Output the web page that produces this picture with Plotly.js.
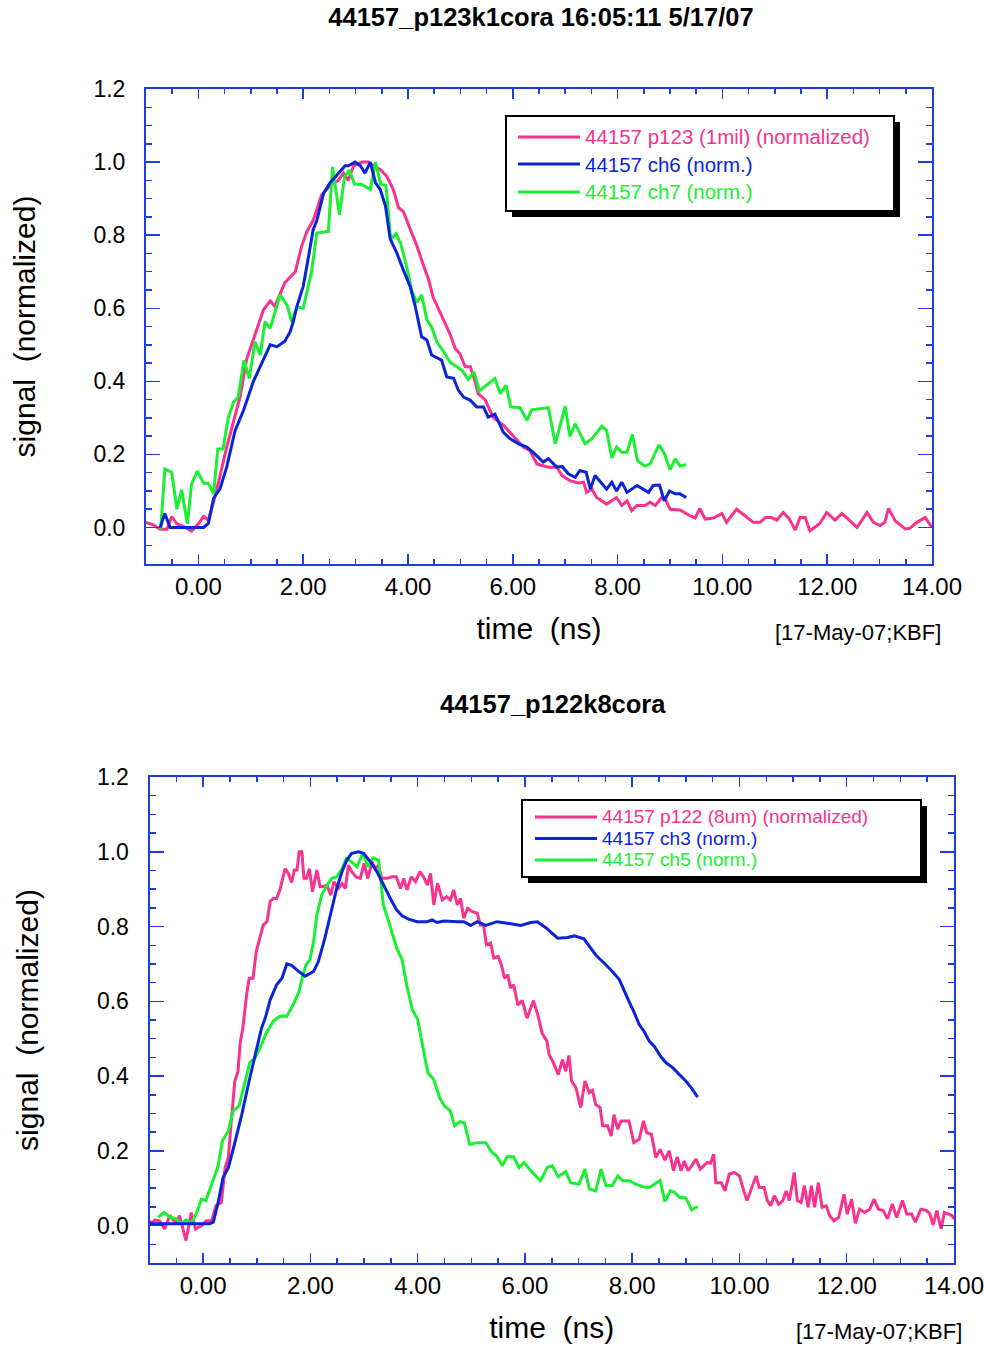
<!DOCTYPE html>
<html>
<head>
<meta charset="utf-8">
<script src="https://cdn.plot.ly/plotly-3.0.1.min.js"></script>
<style>html,body{margin:0;padding:0;background:#fff;}#chart{width:984px;height:1346px;}</style>
</head>
<body>
<div id="chart"></div>
<script>
// ---------- DATA ----------
// top panel: shot 44157_p123k1cora
const t_p123 = [-1.0,-0.86,-0.73,-0.60,-0.51,-0.41,-0.25,-0.13,0.0,0.10,0.19,0.29,0.41,0.54,0.67,0.80,0.92,1.08,1.24,1.37,1.46,1.65,1.85,1.97,2.07,2.19,2.35,2.55,2.67,2.77,2.86,2.96,3.12,3.24,3.34,3.47,3.60,3.72,3.82,3.91,4.04,4.17,4.29,4.39,4.48,4.58,4.68,4.80,4.90,4.99,5.09,5.19,5.28,5.34,5.47,5.63,5.82,6.01,6.20,6.33,6.46,6.68,6.84,6.94,7.09,7.25,7.35,7.41,7.51,7.60,7.79,7.98,8.08,8.18,8.27,8.37,8.52,8.62,8.72,8.84,8.91,9.00,9.19,9.38,9.48,9.57,9.67,9.83,9.99,10.08,10.27,10.43,10.59,10.72,10.82,10.94,11.04,11.16,11.26,11.39,11.48,11.58,11.67,11.86,11.99,12.15,12.28,12.40,12.57,12.76,12.88,13.01,13.10,13.17,13.30,13.49,13.58,13.71,13.87,14.0];
const sig_p123 = [0.014,0.007,-0.005,-0.005,0.03,0.01,0.0,-0.01,0.01,0.03,0.02,0.07,0.14,0.22,0.29,0.36,0.46,0.53,0.595,0.62,0.605,0.67,0.70,0.77,0.81,0.84,0.91,0.94,0.95,0.97,0.95,0.99,1.0,1.0,0.99,0.98,0.96,0.925,0.875,0.865,0.82,0.77,0.72,0.68,0.63,0.60,0.57,0.53,0.49,0.476,0.44,0.44,0.40,0.366,0.35,0.30,0.28,0.25,0.22,0.21,0.174,0.165,0.165,0.142,0.128,0.122,0.124,0.096,0.105,0.082,0.064,0.082,0.06,0.073,0.046,0.06,0.06,0.069,0.06,0.082,0.078,0.05,0.048,0.032,0.026,0.052,0.023,0.026,0.038,0.014,0.05,0.032,0.014,0.014,0.027,0.027,0.02,0.041,0.027,-0.007,0.027,0.027,-0.009,0.011,0.041,0.02,0.038,0.023,0.0,0.041,0.014,0.005,0.014,0.052,0.018,-0.004,-0.002,0.014,0.027,0.0];

const t_ch6 = [-0.73,-0.64,-0.54,0.10,0.19,0.29,0.41,0.54,0.70,0.86,1.05,1.24,1.37,1.50,1.65,1.75,1.81,1.88,2.00,2.10,2.19,2.26,2.39,2.51,2.67,2.80,2.86,2.99,3.09,3.18,3.28,3.38,3.47,3.57,3.66,3.79,3.91,4.04,4.14,4.26,4.36,4.45,4.64,4.74,4.87,4.96,5.06,5.19,5.31,5.44,5.53,5.66,5.82,5.95,6.11,6.27,6.43,6.58,6.68,6.84,6.94,7.06,7.19,7.28,7.40,7.48,7.57,7.79,7.89,7.98,8.08,8.18,8.37,8.59,8.68,8.80,8.89,8.99,9.10,9.19,9.31];
const sig_ch6 = [0.0,0.038,0.0,0.0,0.011,0.08,0.105,0.165,0.265,0.32,0.40,0.46,0.50,0.495,0.51,0.535,0.563,0.605,0.66,0.74,0.815,0.84,0.915,0.943,0.97,0.99,0.99,1.0,0.99,0.97,1.0,0.943,0.925,0.88,0.79,0.75,0.705,0.66,0.604,0.522,0.513,0.472,0.458,0.412,0.408,0.376,0.357,0.348,0.33,0.33,0.302,0.31,0.26,0.243,0.229,0.22,0.20,0.179,0.188,0.165,0.167,0.147,0.137,0.156,0.151,0.105,0.142,0.105,0.124,0.10,0.124,0.096,0.115,0.096,0.115,0.116,0.073,0.10,0.092,0.092,0.082];

const t_ch7 = [-0.72,-0.64,-0.51,-0.41,-0.32,-0.21,-0.13,-0.02,0.10,0.19,0.29,0.37,0.47,0.57,0.67,0.76,0.87,0.97,1.08,1.18,1.27,1.37,1.56,1.69,1.78,1.88,2.00,2.16,2.26,2.48,2.56,2.69,2.79,2.88,2.98,3.12,3.28,3.38,3.48,3.58,3.67,3.77,3.86,3.98,4.07,4.17,4.26,4.36,4.45,4.55,4.68,4.80,4.93,5.03,5.15,5.26,5.36,5.52,5.66,5.76,5.87,5.96,6.14,6.27,6.36,6.68,6.81,7.00,7.09,7.19,7.38,7.51,7.70,7.79,7.89,7.98,8.08,8.18,8.28,8.38,8.52,8.62,8.79,8.89,9.00,9.10,9.19,9.31];
const sig_ch7 = [-0.005,0.16,0.151,0.05,0.103,0.01,0.119,0.154,0.121,0.121,0.092,0.215,0.215,0.30,0.343,0.357,0.458,0.408,0.508,0.472,0.563,0.545,0.637,0.609,0.563,0.604,0.60,0.70,0.806,0.81,0.987,0.856,0.96,0.978,0.94,0.939,0.925,1.0,0.939,0.936,0.788,0.804,0.778,0.71,0.65,0.615,0.637,0.568,0.549,0.508,0.481,0.453,0.44,0.43,0.405,0.426,0.374,0.392,0.408,0.366,0.389,0.33,0.328,0.293,0.322,0.328,0.229,0.332,0.249,0.284,0.229,0.243,0.277,0.266,0.19,0.22,0.206,0.206,0.255,0.183,0.168,0.174,0.226,0.203,0.158,0.188,0.168,0.172];

// bottom panel: shot 44157_p122k8cora
const t_p122 = [-1.0,-0.96,-0.90,-0.81,-0.72,-0.62,-0.50,-0.44,-0.32,-0.22,-0.14,-0.03,0.06,0.16,0.24,0.34,0.41,0.47,0.53,0.59,0.65,0.69,0.74,0.81,0.86,0.93,0.99,1.05,1.12,1.19,1.25,1.31,1.37,1.43,1.53,1.59,1.65,1.70,1.75,1.79,1.84,1.88,1.93,1.98,2.04,2.12,2.18,2.24,2.31,2.38,2.44,2.52,2.59,2.65,2.71,2.77,2.85,2.93,3.00,3.07,3.15,3.21,3.27,3.33,3.43,3.52,3.60,3.68,3.74,3.80,3.88,3.96,4.04,4.11,4.18,4.24,4.30,4.37,4.46,4.54,4.61,4.67,4.74,4.80,4.86,4.93,5.02,5.11,5.17,5.23,5.28,5.36,5.42,5.50,5.56,5.62,5.68,5.73,5.79,5.87,5.95,6.04,6.16,6.24,6.32,6.41,6.45,6.53,6.62,6.70,6.76,6.82,6.87,6.95,7.04,7.12,7.20,7.26,7.32,7.40,7.45,7.54,7.61,7.66,7.73,7.79,7.88,7.94,8.03,8.13,8.21,8.27,8.36,8.44,8.52,8.61,8.69,8.77,8.84,8.91,8.97,9.04,9.11,9.19,9.27,9.33,9.40,9.46,9.52,9.56,9.66,9.73,9.81,9.91,10.00,10.08,10.14,10.23,10.31,10.37,10.46,10.52,10.58,10.65,10.73,10.81,10.87,10.93,11.02,11.08,11.15,11.21,11.28,11.34,11.40,11.47,11.54,11.62,11.68,11.76,11.85,11.95,12.01,12.09,12.16,12.24,12.33,12.43,12.51,12.59,12.68,12.76,12.85,12.93,13.04,13.12,13.21,13.28,13.38,13.49,13.55,13.61,13.68,13.76,13.82,13.90,13.96,14.0];
const sig_p122 = [0.013,0.005,0.015,0.013,-0.009,0.027,0.005,0.027,-0.04,0.035,-0.009,0.0,0.013,0.013,0.053,0.062,0.155,0.182,0.288,0.386,0.413,0.488,0.528,0.618,0.662,0.662,0.733,0.764,0.804,0.813,0.867,0.875,0.875,0.898,0.955,0.942,0.918,0.951,0.951,1.0,1.0,0.929,0.929,0.955,0.893,0.951,0.907,0.907,0.911,0.884,0.92,0.902,0.915,0.902,0.964,0.947,0.933,0.929,0.969,0.929,0.973,0.955,0.964,0.929,0.929,0.933,0.933,0.902,0.929,0.898,0.933,0.92,0.947,0.933,0.911,0.942,0.858,0.916,0.871,0.88,0.871,0.898,0.858,0.875,0.822,0.849,0.84,0.836,0.804,0.804,0.751,0.756,0.716,0.72,0.698,0.662,0.671,0.636,0.644,0.59,0.602,0.555,0.602,0.564,0.515,0.493,0.458,0.436,0.404,0.444,0.413,0.455,0.387,0.369,0.316,0.387,0.356,0.362,0.324,0.316,0.267,0.267,0.24,0.297,0.258,0.28,0.28,0.28,0.222,0.231,0.28,0.249,0.244,0.182,0.204,0.175,0.2,0.147,0.184,0.147,0.173,0.147,0.16,0.178,0.151,0.16,0.169,0.167,0.191,0.115,0.115,0.093,0.138,0.142,0.133,0.093,0.067,0.102,0.133,0.102,0.102,0.067,0.053,0.08,0.057,0.067,0.093,0.067,0.142,0.067,0.062,0.107,0.049,0.107,0.049,0.115,0.049,0.053,0.027,0.013,0.022,0.084,0.031,0.071,0.006,0.044,0.035,0.044,0.071,0.044,0.04,0.018,0.058,0.022,0.067,0.031,0.031,0.009,0.044,0.04,0.031,0.002,0.04,-0.009,0.035,0.031,0.027,0.018];

const t_ch3 = [-1.0,0.12,0.19,0.28,0.37,0.47,0.59,0.72,0.87,0.97,1.09,1.16,1.25,1.37,1.47,1.56,1.65,1.78,1.90,2.06,2.15,2.27,2.40,2.49,2.59,2.68,2.77,2.90,2.99,3.12,3.24,3.36,3.49,3.61,3.71,3.83,3.99,4.18,4.27,4.36,4.49,4.74,4.86,4.99,5.11,5.27,5.48,5.67,5.92,6.11,6.23,6.39,6.48,6.61,6.79,6.92,7.10,7.20,7.32,7.48,7.63,7.76,7.85,7.94,8.04,8.13,8.22,8.32,8.41,8.54,8.63,8.76,8.88,9.00,9.10,9.22];
const sig_ch3 = [0.005,0.005,0.009,0.062,0.128,0.155,0.221,0.297,0.395,0.458,0.529,0.556,0.604,0.644,0.662,0.70,0.696,0.68,0.667,0.68,0.707,0.769,0.849,0.902,0.947,0.978,0.996,1.0,0.996,0.973,0.947,0.911,0.875,0.844,0.829,0.82,0.813,0.813,0.818,0.811,0.815,0.813,0.813,0.803,0.813,0.803,0.813,0.809,0.803,0.811,0.813,0.797,0.785,0.769,0.771,0.775,0.767,0.747,0.724,0.702,0.68,0.658,0.631,0.60,0.569,0.538,0.52,0.493,0.48,0.451,0.436,0.422,0.404,0.387,0.369,0.344];

const t_ch5 = [-0.84,-0.73,-0.62,-0.50,-0.40,-0.32,-0.22,-0.12,-0.03,0.05,0.16,0.28,0.36,0.47,0.56,0.67,0.77,0.87,0.97,1.06,1.18,1.31,1.43,1.56,1.68,1.79,1.86,1.92,1.99,2.06,2.12,2.21,2.31,2.40,2.49,2.59,2.67,2.77,2.87,2.98,3.07,3.17,3.27,3.36,3.46,3.54,3.61,3.71,3.80,3.90,4.00,4.10,4.19,4.30,4.41,4.50,4.61,4.69,4.79,4.87,4.97,5.11,5.27,5.39,5.47,5.58,5.67,5.79,5.89,5.98,6.11,6.29,6.42,6.51,6.62,6.76,6.85,7.01,7.12,7.20,7.32,7.42,7.51,7.63,7.73,7.82,7.94,8.07,8.19,8.32,8.41,8.52,8.61,8.71,8.79,8.88,9.00,9.11,9.22];
const sig_ch5 = [0.022,0.035,0.023,0.018,0.005,0.015,0.005,0.035,0.071,0.067,0.111,0.16,0.227,0.253,0.307,0.32,0.378,0.436,0.449,0.475,0.516,0.547,0.56,0.56,0.591,0.627,0.671,0.698,0.711,0.76,0.831,0.884,0.911,0.929,0.933,0.955,0.982,0.973,0.96,0.998,0.96,0.984,0.978,0.858,0.813,0.778,0.742,0.711,0.64,0.578,0.551,0.475,0.409,0.391,0.342,0.32,0.307,0.267,0.278,0.275,0.217,0.222,0.222,0.195,0.187,0.16,0.184,0.184,0.155,0.169,0.147,0.12,0.156,0.16,0.131,0.145,0.115,0.111,0.151,0.098,0.093,0.151,0.107,0.107,0.133,0.12,0.12,0.111,0.104,0.102,0.111,0.121,0.065,0.093,0.089,0.076,0.074,0.042,0.051];

// text
const titleTop = "44157_p123k1cora 16:05:11 5/17/07";
const titleBottom = "44157_p122k8cora";
const xTitle = "time  (ns)";
const yTitle = "signal  (normalized)";
const stamp = "[17-May-07;KBF]";
const legendTop = ["44157 p123 (1mil) (normalized)", "44157 ch6 (norm.)", "44157 ch7 (norm.)"];
const legendBottom = ["44157 p122 (8um) (normalized)", "44157 ch3 (norm.)", "44157 ch5 (norm.)"];

// ---------- STYLE ----------
const W = 984, H = 1346;
const PINK = '#f7328f', BLUE = '#0a25d8', GREEN = '#1af032', AXIS = '#1e3ee2';
const FONT = 'Liberation Sans, Arial, Helvetica, sans-serif';
const px = x => x / W;
const py = y => 1 - y / H;

function line(x, y, color, xa, ya) {
  return {type: 'scatter', mode: 'lines', x: x, y: y, xaxis: xa, yaxis: ya,
          line: {color: color, width: 3}, showlegend: false, hoverinfo: 'skip'};
}
const traces = [
  line(t_p123, sig_p123, PINK, 'x', 'y'),
  line(t_ch7, sig_ch7, GREEN, 'x', 'y'),
  line(t_ch6, sig_ch6, BLUE, 'x', 'y'),
  line(t_p122, sig_p122, PINK, 'x2', 'y2'),
  line(t_ch5, sig_ch5, GREEN, 'x2', 'y2'),
  line(t_ch3, sig_ch3, BLUE, 'x2', 'y2'),
];

function xaxis(dom, anchor) {
  return {domain: dom, anchor: anchor, range: [-1, 14], tick0: 0, dtick: 2, tickformat: '.2f',
    showgrid: false, zeroline: false, showline: true, linecolor: AXIS, linewidth: 2, mirror: 'allticks',
    ticks: 'inside', ticklen: 10, tickwidth: 1.5, tickcolor: AXIS, ticklabelstandoff: 0,
    ticklabeloverflow: 'allow',
    tickfont: {family: FONT, size: 24, color: '#000'},
    minor: {dtick: 0.5, tick0: 0, ticks: 'inside', ticklen: 5, tickwidth: 1.5, tickcolor: AXIS, showgrid: false},
    title: {text: xTitle, font: {family: FONT, size: 30, color: '#000'}, standoff: 19}};
}
function yaxis(dom, anchor) {
  return {domain: dom, anchor: anchor, range: [-0.1, 1.2001], tick0: 0, dtick: 0.2, tickformat: '.1f',
    showgrid: false, zeroline: false, showline: true, linecolor: AXIS, linewidth: 2, mirror: 'allticks',
    ticks: 'inside', ticklen: 14, tickwidth: 1.5, tickcolor: AXIS, ticklabelstandoff: 14,
    ticklabeloverflow: 'allow',
    tickfont: {family: FONT, size: 23, color: '#000'},
    minor: {dtick: 0.05, tick0: 0, ticks: 'inside', ticklen: 6, tickwidth: 1.5, tickcolor: AXIS, showgrid: false},
    title: {text: yTitle, font: {family: FONT, size: 30, color: '#000'}, standoff: 49}};
}

// legend boxes drawn as shapes + text
const shapes = [], annotations = [];
function legendBox(x0, y0, x1, y1, rows, lx0, lx1, tx, labels, fsize) {
  const off = 6;
  shapes.push({type: 'rect', xref: 'paper', yref: 'paper', x0: px(x0 + off), x1: px(x1 + off), y0: py(y1 + off), y1: py(y0 + off),
               fillcolor: '#000', line: {width: 0}, layer: 'above'});
  shapes.push({type: 'rect', xref: 'paper', yref: 'paper', x0: px(x0), x1: px(x1), y0: py(y1), y1: py(y0),
               fillcolor: '#fff', line: {color: '#000', width: 2}, layer: 'above'});
  const cols = [PINK, BLUE, GREEN];
  rows.forEach((ry, i) => {
    shapes.push({type: 'line', xref: 'paper', yref: 'paper', x0: px(lx0), x1: px(lx1), y0: py(ry), y1: py(ry),
                 line: {color: cols[i], width: 3}, layer: 'above'});
    annotations.push({xref: 'paper', yref: 'paper', x: px(tx), y: py(ry), xanchor: 'left', yanchor: 'middle',
                      text: labels[i], showarrow: false, borderpad: 0,
                      font: {family: FONT, size: fsize, color: cols[i]}});
  });
}
legendBox(506, 116, 894, 211, [137, 164, 192], 518, 580, 584, legendTop, 20.5);
legendBox(522, 800, 921, 877, [817, 838.5, 860], 535, 597, 601, legendBottom, 19);

annotations.push({xref: 'paper', yref: 'paper', x: px(553), y: py(704), xanchor: 'center', yanchor: 'middle',
  text: '<b>' + titleBottom + '</b>', showarrow: false, font: {family: FONT, size: 25.5, color: '#000'}});
annotations.push({xref: 'paper', yref: 'paper', x: px(858), y: py(632), xanchor: 'center', yanchor: 'middle',
  text: stamp, showarrow: false, font: {family: FONT, size: 22, color: '#000'}});
annotations.push({xref: 'paper', yref: 'paper', x: px(879), y: py(1331), xanchor: 'center', yanchor: 'middle',
  text: stamp, showarrow: false, font: {family: FONT, size: 22, color: '#000'}});

const layout = {
  width: W, height: H, margin: {l: 0, r: 0, t: 0, b: 0}, paper_bgcolor: '#fff', plot_bgcolor: '#fff',
  showlegend: false,
  title: {text: '<b>' + titleTop + '</b>', x: px(541), xanchor: 'center', y: py(17), yanchor: 'middle', xref: 'paper', yref: 'paper',
          font: {family: FONT, size: 25.5, color: '#000'}},
  xaxis: xaxis([px(146), px(932)], 'y'),
  yaxis: yaxis([py(564), py(89)], 'x'),
  xaxis2: xaxis([px(149.5), px(954)], 'y2'),
  yaxis2: yaxis([py(1263), py(777)], 'x2'),
  shapes: shapes, annotations: annotations
};
Plotly.newPlot('chart', traces, layout, {staticPlot: true, displayModeBar: false});
</script>
</body>
</html>
